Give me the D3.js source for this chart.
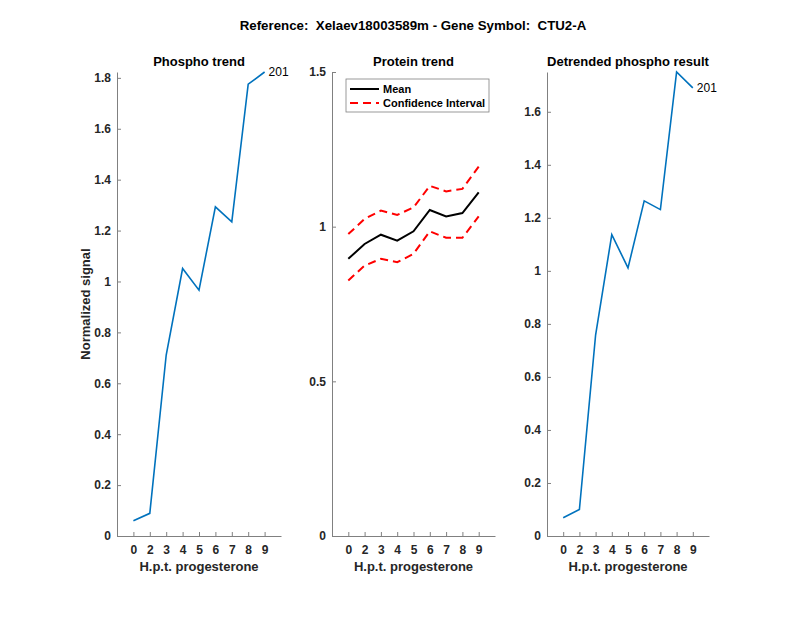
<!DOCTYPE html>
<html>
<head>
<meta charset="utf-8">
<script src="https://cdn.jsdelivr.net/npm/d3@7"></script>
<style>
  body { margin: 0; background: #fff; }
  text { font-family: "Liberation Sans", Arial, sans-serif; fill: #262626; white-space: pre; }
</style>
</head>
<body>
<svg width="800" height="618"></svg>
<script>
// time points (hours post progesterone)
const hours = ["0", "2", "3", "4", "5", "6", "7", "8", "9"];

// panel 1: phospho trend
const phospho = [0.060, 0.089, 0.711, 1.051, 0.966, 1.293, 1.234, 1.775, 1.823];

// panel 2: protein trend
const proteinMean = [0.896, 0.944, 0.974, 0.955, 0.985, 1.054, 1.033, 1.044, 1.111];
const proteinUpper = [0.976, 1.025, 1.052, 1.038, 1.062, 1.132, 1.114, 1.122, 1.194];
const proteinLower = [0.826, 0.874, 0.896, 0.885, 0.912, 0.985, 0.964, 0.964, 1.033];

// panel 3: detrended phospho
const detrended = [0.069, 0.100, 0.758, 1.137, 1.011, 1.264, 1.231, 1.750, 1.690];

const peptideLabel = "201";
const blue = "#0072BD";

const svg = d3.select("svg");

svg.append("text")
  .attr("x", 413).attr("y", 30)
  .attr("text-anchor", "middle")
  .attr("font-size", 13.3).attr("font-weight", "bold")
  .style("fill", "#000")
  .text("Reference:  Xelaev18003589m - Gene Symbol:  CTU2-A");

// draws one panel and returns scales
function panel(left, right, yMax, ticks, title, fmt) {
  const top = 72, bottom = 536;
  const x = d3.scaleLinear().domain([-1, hours.length]).range([left, right]);
  const y = d3.scaleLinear().domain([0, yMax]).range([bottom, top]);
  const g = svg.append("g");

  const xAxis = d3.axisBottom(x)
    .tickValues(d3.range(hours.length))
    .tickFormat((i) => hours[i])
    .tickSizeInner(-4).tickSizeOuter(0).tickPadding(9);
  const gx = g.append("g").attr("transform", `translate(0,${bottom})`).call(xAxis);

  const yAxis = d3.axisLeft(y).tickValues(ticks).tickFormat(fmt)
    .tickSizeInner(-4).tickSizeOuter(0).tickPadding(6);
  const gy = g.append("g").attr("transform", `translate(${left},0)`).call(yAxis);

  [gx, gy].forEach((a) => {
    a.select(".domain").attr("stroke", "#808080");
    a.selectAll(".tick line").attr("stroke", "#808080");
    a.selectAll(".tick text").attr("font-size", 12).attr("font-weight", "bold")
      .attr("font-family", "Liberation Sans, Arial, sans-serif").style("fill", "#262626");
  });

  g.append("text")
    .attr("x", (left + right) / 2).attr("y", 66)
    .attr("text-anchor", "middle")
    .attr("font-size", 13).attr("font-weight", "bold")
    .style("fill", "#000")
    .text(title);

  g.append("text")
    .attr("x", x((hours.length - 1) / 2)).attr("y", 571)
    .attr("text-anchor", "middle")
    .attr("font-size", 13).attr("font-weight", "bold")
    .text("H.p.t. progesterone");

  return { g, x, y };
}

function drawLine(p, values, color, width, dash) {
  const line = d3.line().x((d, i) => p.x(i)).y((d) => p.y(d));
  p.g.append("path")
    .datum(values)
    .attr("d", line)
    .attr("fill", "none")
    .attr("stroke", color)
    .attr("stroke-width", width)
    .attr("stroke-dasharray", dash || null);
}

// panel 1
const p1 = panel(117, 281, d3.max(phospho), [0, 0.2, 0.4, 0.6, 0.8, 1, 1.2, 1.4, 1.6, 1.8], "Phospho trend",
  (d) => d === 0 || d === 1 ? d : d3.format(".1f")(d));
drawLine(p1, phospho, blue, 1.6);
p1.g.append("text")
  .attr("x", p1.x(hours.length - 1) + 4).attr("y", p1.y(phospho[8]) + 4)
  .attr("font-size", 12).style("fill", "#000")
  .text(peptideLabel);
svg.append("text")
  .attr("transform", "translate(90,304) rotate(-90)")
  .attr("text-anchor", "middle")
  .attr("font-size", 13).attr("font-weight", "bold")
  .text("Normalized signal");

// panel 2
const p2 = panel(332, 495, 1.5, [0, 0.5, 1, 1.5], "Protein trend", (d) => d);
drawLine(p2, proteinUpper, "#FF0000", 2, "8,5");
drawLine(p2, proteinLower, "#FF0000", 2, "8,5");
drawLine(p2, proteinMean, "#000", 2);

// legend
const lg = p2.g.append("g").attr("transform", "translate(346,79)");
lg.append("rect").attr("width", 143).attr("height", 33)
  .attr("fill", "#fff").attr("stroke", "#808080").attr("stroke-width", 0.8);
lg.append("line").attr("x1", 4).attr("x2", 33).attr("y1", 10).attr("y2", 10)
  .attr("stroke", "#000").attr("stroke-width", 2);
lg.append("line").attr("x1", 4).attr("x2", 33).attr("y1", 24).attr("y2", 24)
  .attr("stroke", "#FF0000").attr("stroke-width", 2).attr("stroke-dasharray", "8,5");
lg.append("text").attr("x", 37).attr("y", 14)
  .attr("font-size", 11).attr("font-weight", "bold").style("fill", "#000").text("Mean");
lg.append("text").attr("x", 37).attr("y", 28)
  .attr("font-size", 11).attr("font-weight", "bold").style("fill", "#000").text("Confidence Interval");

// panel 3
const p3 = panel(547, 709, d3.max(detrended), [0, 0.2, 0.4, 0.6, 0.8, 1, 1.2, 1.4, 1.6], "Detrended phospho result",
  (d) => d === 0 || d === 1 ? d : d3.format(".1f")(d));
drawLine(p3, detrended, blue, 1.6);
p3.g.append("text")
  .attr("x", p3.x(hours.length - 1) + 4).attr("y", p3.y(detrended[8]) + 4)
  .attr("font-size", 12).style("fill", "#000")
  .text(peptideLabel);
</script>
</body>
</html>
